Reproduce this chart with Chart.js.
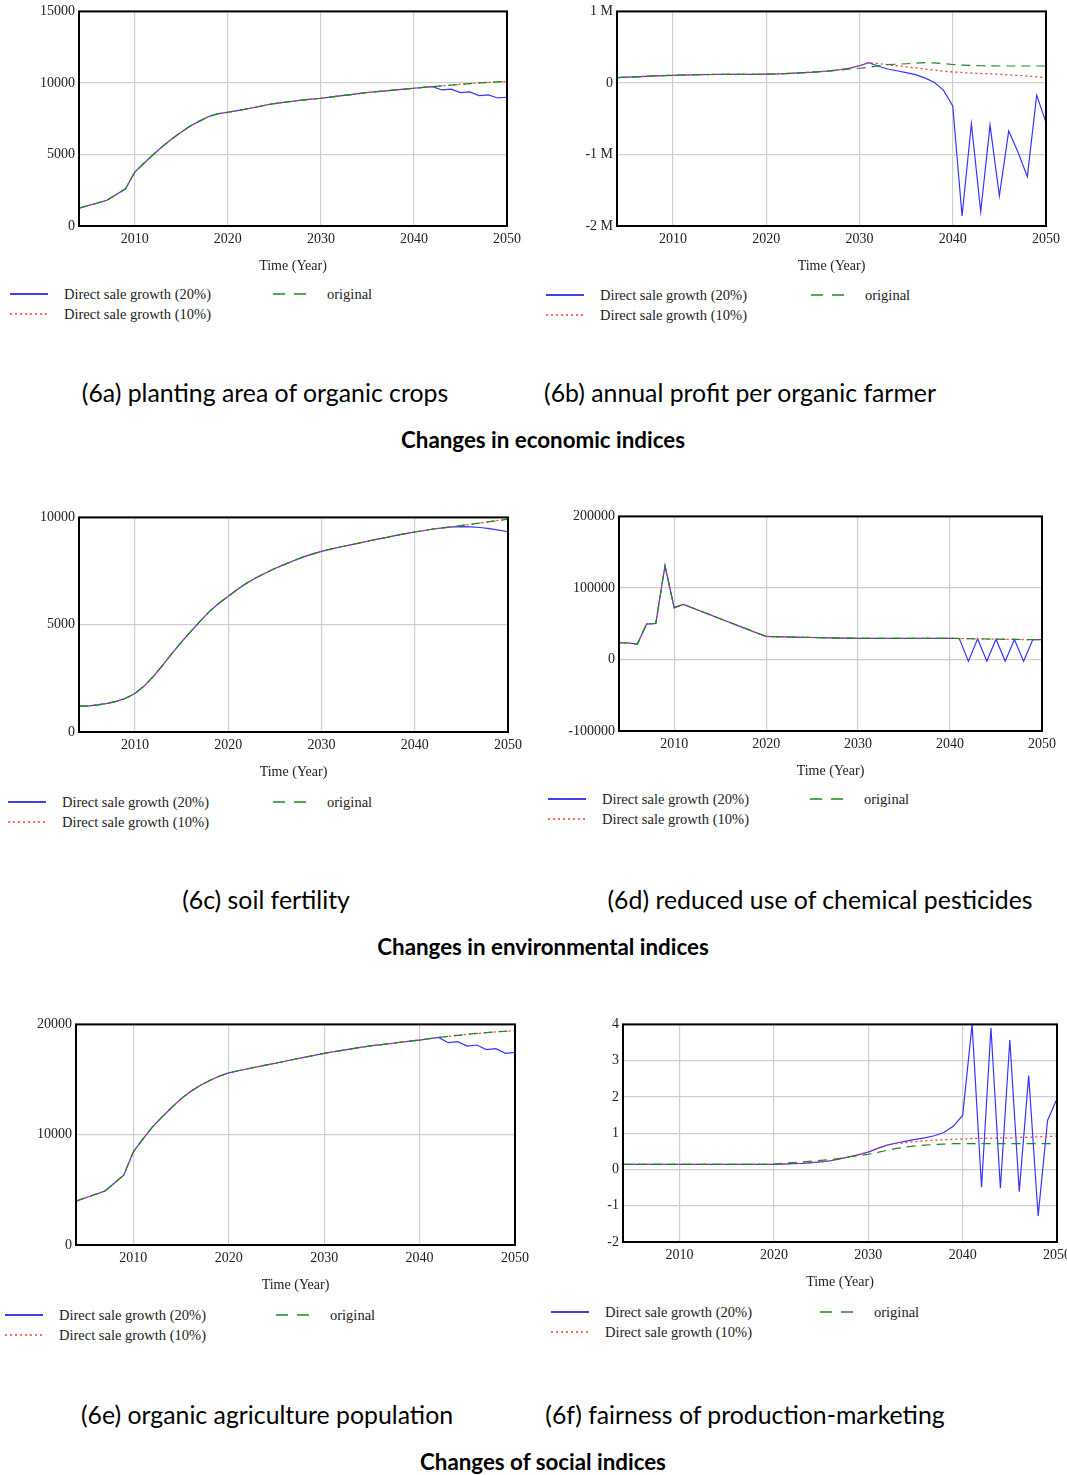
<!DOCTYPE html>
<html>
<head>
<meta charset="utf-8">
<script src="https://cdn.jsdelivr.net/npm/chart.js@4.4.1/dist/chart.umd.min.js"></script>
<style>
  html, body { margin: 0; padding: 0; background: #fff; overflow: hidden; }
  #page { position: relative; width: 1067px; height: 1475px; overflow: hidden; background: #fff; }
  .cv { position: absolute; }
  .txt { position: absolute; white-space: nowrap; transform: translate(-50%, -50%); color: #000; }
  .leg { position: absolute; white-space: nowrap; font-family: "Liberation Serif", serif; font-size: 14.5px; color: #222; transform: translateY(-50%); }
  .legline { position: absolute; }
</style>
</head>
<body>
<div id="page"></div>
<script>
// years on the time axis
const years = [2004, 2005, 2006, 2007, 2008, 2009, 2010, 2011, 2012, 2013,
  2014, 2015, 2016, 2017, 2018, 2019, 2020, 2021, 2022, 2023,
  2024, 2025, 2026, 2027, 2028, 2029, 2030, 2031, 2032, 2033,
  2034, 2035, 2036, 2037, 2038, 2039, 2040, 2041, 2042, 2043,
  2044, 2045, 2046, 2047, 2048, 2049, 2050];
const xTicks = [2010, 2020, 2030, 2040, 2050];

const seriesNames = ["Direct sale growth (20%)", "Direct sale growth (10%)", "original"];

// (6a) planting area of organic crops
const areaTicks = [0, 5000, 10000, 15000];
const areaOriginal = [1250, 1430, 1610, 1800, 2200, 2600, 3770, 4400, 5000, 5580,
  6100, 6570, 7000, 7350, 7670, 7850, 7950, 8060, 8180, 8300,
  8440, 8560, 8640, 8720, 8800, 8870, 8930, 9010, 9090, 9170,
  9250, 9330, 9390, 9450, 9510, 9570, 9630, 9690, 9740, 9800,
  9850, 9900, 9950, 10000, 10040, 10080, 10110];
const area10 = [1250, 1430, 1610, 1800, 2200, 2600, 3770, 4400, 5000, 5580,
  6100, 6570, 7000, 7350, 7670, 7850, 7950, 8060, 8180, 8300,
  8440, 8560, 8640, 8720, 8800, 8870, 8930, 9010, 9090, 9170,
  9250, 9330, 9390, 9450, 9510, 9570, 9630, 9690, 9740, 9800,
  9850, 9900, 9950, 10000, 10040, 10080, 10110];
const area20 = [1250, 1430, 1610, 1800, 2200, 2600, 3770, 4400, 5000, 5580,
  6100, 6570, 7000, 7350, 7670, 7850, 7950, 8060, 8180, 8300,
  8440, 8560, 8640, 8720, 8800, 8870, 8930, 9010, 9090, 9170,
  9250, 9330, 9390, 9450, 9510, 9570, 9630, 9690, 9740, 9510,
  9560, 9330, 9370, 9120, 9160, 8950, 9000];

// (6b) annual profit per organic farmer
const profitTicks = [-2000000, -1000000, 0, 1000000];
const profitTickLabels = ["-2 M", "-1 M", "0", "1 M"];
const profitOriginal = [74000, 80000, 86000, 92000, 98000, 103000, 107000, 111000, 114000, 116000,
  118000, 119000, 120000, 121000, 121000, 121000, 122000, 125000, 130000, 136000,
  143000, 150000, 158000, 168000, 180000, 195000, 205000, 218000, 238000, 255000,
  262000, 268000, 276000, 283000, 280000, 270000, 258000, 250000, 244000, 240000,
  238000, 237000, 237000, 237000, 237000, 237000, 237000];
const profit10 = [74000, 80000, 86000, 92000, 98000, 103000, 107000, 111000, 114000, 116000,
  118000, 119000, 120000, 121000, 121000, 121000, 122000, 125000, 130000, 136000,
  143000, 150000, 160000, 172000, 188000, 208000, 240000, 283000, 272000, 255000,
  240000, 225000, 210000, 195000, 180000, 165000, 153000, 145000, 138000, 132000,
  127000, 120000, 113000, 105000, 96000, 86000, 72000];
const profit20 = [74000, 80000, 86000, 92000, 98000, 103000, 107000, 111000, 114000, 116000,
  118000, 119000, 120000, 121000, 121000, 121000, 122000, 125000, 130000, 136000,
  143000, 150000, 160000, 172000, 188000, 208000, 240000, 283000, 237000, 195000,
  170000, 144000, 116000, 70000, 10000, -100000, -320000, -1860000, -570000, -1800000,
  -590000, -1580000, -670000, -970000, -1310000, -170000, -550000];

// (6c) soil fertility
const soilTicks = [0, 5000, 10000];
const soilOriginal = [1210, 1220, 1260, 1330, 1430, 1570, 1790, 2150, 2600, 3130,
  3680, 4200, 4690, 5170, 5620, 6000, 6320, 6650, 6940, 7190,
  7410, 7620, 7800, 7980, 8150, 8290, 8420, 8520, 8620, 8710,
  8800, 8900, 8990, 9070, 9160, 9240, 9320, 9390, 9460, 9510,
  9560, 9620, 9680, 9740, 9800, 9860, 9920];
const soil10 = [1210, 1220, 1260, 1330, 1430, 1570, 1790, 2150, 2600, 3130,
  3680, 4200, 4690, 5170, 5620, 6000, 6320, 6650, 6940, 7190,
  7410, 7620, 7800, 7980, 8150, 8290, 8420, 8520, 8620, 8710,
  8800, 8900, 8990, 9070, 9160, 9240, 9320, 9390, 9460, 9510,
  9560, 9620, 9680, 9740, 9800, 9860, 9920];
const soil20 = [1210, 1220, 1260, 1330, 1430, 1570, 1790, 2150, 2600, 3130,
  3680, 4200, 4690, 5170, 5620, 6000, 6320, 6650, 6940, 7190,
  7410, 7620, 7800, 7980, 8150, 8290, 8420, 8520, 8620, 8710,
  8800, 8900, 8990, 9070, 9160, 9240, 9320, 9390, 9460, 9510,
  9560, 9570, 9560, 9530, 9480, 9410, 9330];

// (6d) reduced use of chemical pesticides
const pestTicks = [-100000, 0, 100000, 200000];
const pestOriginal = [23400, 23000, 21500, 49500, 50500, 131000, 72400, 77000, 72000, 67000,
  62000, 57000, 52000, 47000, 42000, 37000, 32200, 31800, 31500, 31200,
  31000, 30700, 30400, 30100, 29900, 29700, 29500, 29400, 29400, 29400,
  29400, 29400, 29400, 29400, 29400, 29400, 29400, 29300, 29000, 28800,
  28600, 28400, 28200, 28000, 27900, 27800, 27700];
const pest10 = [23400, 23000, 21500, 49500, 50500, 131000, 72400, 77000, 72000, 67000,
  62000, 57000, 52000, 47000, 42000, 37000, 32200, 31800, 31500, 31200,
  31000, 30700, 30400, 30100, 29900, 29700, 29500, 29400, 29400, 29400,
  29400, 29400, 29400, 29400, 29400, 29400, 29400, 29300, 29000, 28800,
  28600, 28400, 28200, 28000, 27900, 27800, 27700];
const pest20 = [23400, 23000, 21500, 49500, 50500, 131000, 72400, 77000, 72000, 67000,
  62000, 57000, 52000, 47000, 42000, 37000, 32200, 31800, 31500, 31200,
  31000, 30700, 30400, 30100, 29900, 29700, 29500, 29400, 29400, 29400,
  29400, 29400, 29400, 29400, 29400, 29400, 29400, 29300, -2300, 28800,
  -2300, 28400, -2300, 28000, -2300, 27800, 27700];

// (6e) organic agriculture population
const popTicks = [0, 10000, 20000];
const popOriginal = [3980, 4280, 4580, 4880, 5600, 6330, 8430, 9600, 10690, 11600,
  12440, 13250, 13920, 14460, 14910, 15300, 15600, 15800, 15980, 16160,
  16330, 16500, 16680, 16860, 17030, 17200, 17380, 17520, 17660, 17800,
  17940, 18070, 18170, 18270, 18380, 18480, 18580, 18700, 18820, 18920,
  19010, 19100, 19180, 19250, 19320, 19380, 19430];
const pop10 = [3980, 4280, 4580, 4880, 5600, 6330, 8430, 9600, 10690, 11600,
  12440, 13250, 13920, 14460, 14910, 15300, 15600, 15800, 15980, 16160,
  16330, 16500, 16680, 16860, 17030, 17200, 17380, 17520, 17660, 17800,
  17940, 18070, 18170, 18270, 18380, 18480, 18580, 18700, 18820, 18920,
  19010, 19100, 19180, 19250, 19320, 19380, 19430];
const pop20 = [3980, 4280, 4580, 4880, 5600, 6330, 8430, 9600, 10690, 11600,
  12440, 13250, 13920, 14460, 14910, 15300, 15600, 15800, 15980, 16160,
  16330, 16500, 16680, 16860, 17030, 17200, 17380, 17520, 17660, 17800,
  17940, 18070, 18170, 18270, 18380, 18480, 18580, 18700, 18820, 18340,
  18430, 18040, 18130, 17710, 17800, 17380, 17470];

// (6f) fairness of production-marketing
const fairTicks = [-2, -1, 0, 1, 2, 3, 4];
const fairOriginal = [0.14, 0.14, 0.14, 0.14, 0.14, 0.14, 0.14, 0.14, 0.14, 0.14,
  0.14, 0.14, 0.14, 0.14, 0.14, 0.14, 0.15, 0.17, 0.19, 0.21,
  0.23, 0.25, 0.27, 0.31, 0.35, 0.38, 0.42, 0.47, 0.53, 0.58,
  0.62, 0.65, 0.67, 0.69, 0.70, 0.71, 0.71, 0.71, 0.71, 0.71,
  0.71, 0.71, 0.71, 0.71, 0.71, 0.71, 0.71];
const fair10 = [0.14, 0.14, 0.14, 0.14, 0.14, 0.14, 0.14, 0.14, 0.14, 0.14,
  0.14, 0.14, 0.14, 0.14, 0.14, 0.14, 0.14, 0.15, 0.16, 0.17,
  0.19, 0.21, 0.24, 0.29, 0.35, 0.41, 0.48, 0.58, 0.67, 0.71,
  0.74, 0.77, 0.79, 0.81, 0.82, 0.83, 0.84, 0.85, 0.86, 0.86,
  0.87, 0.87, 0.88, 0.89, 0.90, 0.91, 0.92];
const fair20 = [0.14, 0.14, 0.14, 0.14, 0.14, 0.14, 0.14, 0.14, 0.14, 0.14,
  0.14, 0.14, 0.14, 0.14, 0.14, 0.14, 0.14, 0.15, 0.16, 0.17,
  0.19, 0.21, 0.24, 0.29, 0.35, 0.41, 0.48, 0.58, 0.67, 0.73,
  0.78, 0.83, 0.87, 0.93, 1.02, 1.19, 1.49, 4.0, -0.49, 3.9,
  -0.52, 3.57, -0.61, 2.59, -1.28, 1.35, 1.95];

// captions and section headings
const captions = [
  { text: "(6a) planting area of organic crops", x: 265, y: 392 },
  { text: "(6b) annual profit per organic farmer", x: 740, y: 392 },
  { text: "(6c) soil fertility", x: 266, y: 899 },
  { text: "(6d) reduced use of chemical pesticides", x: 820, y: 899 },
  { text: "(6e) organic agriculture population", x: 267, y: 1414 },
  { text: "(6f) fairness of production-marketing", x: 745, y: 1414 }
];
const headings = [
  { text: "Changes in economic indices", x: 543, y: 439 },
  { text: "Changes in environmental indices", x: 543, y: 946 },
  { text: "Changes of social indices", x: 543, y: 1461 }
];

// panel layout: plot area [left, top, right, bottom], legend positions
const panels = [
  { plot: [79, 11, 507, 226], min: 0, max: 15000, ticks: areaTicks, labels: null,
    data: [area20, area10, areaOriginal], legend: { x: 10, y: 294, gx: 273 } },
  { plot: [617, 11, 1046, 226], min: -2000000, max: 1000000, ticks: profitTicks, labels: profitTickLabels,
    data: [profit20, profit10, profitOriginal], legend: { x: 546, y: 295, gx: 811 } },
  { plot: [79, 517, 508, 732], min: 0, max: 10000, ticks: soilTicks, labels: null,
    data: [soil20, soil10, soilOriginal], legend: { x: 8, y: 802, gx: 273 } },
  { plot: [619, 516, 1042, 731], min: -100000, max: 200000, ticks: pestTicks, labels: null,
    data: [pest20, pest10, pestOriginal], legend: { x: 548, y: 799, gx: 810 } },
  { plot: [76, 1024, 515, 1245], min: 0, max: 20000, ticks: popTicks, labels: null,
    data: [pop20, pop10, popOriginal], legend: { x: 5, y: 1315, gx: 276 } },
  { plot: [623, 1024, 1057, 1242], min: -2, max: 4, ticks: fairTicks, labels: null,
    data: [fair20, fair10, fairOriginal], legend: { x: 551, y: 1312, gx: 820 } }
];

const BLUE = "#3535ff", RED = "#ff3a3a", GREEN = "#1e8a1e";
const SERIF = "'Liberation Serif', 'Times New Roman', serif";
const page = document.getElementById("page");

// black frame round the plot area
const framePlugin = {
  id: "frame",
  afterDatasetsDraw(chart) {
    const a = chart.chartArea, ctx = chart.ctx;
    ctx.save();
    ctx.strokeStyle = "#000";
    ctx.lineWidth = 2;
    ctx.strokeRect(a.left, a.top, a.right - a.left, a.bottom - a.top);
    ctx.restore();
  }
};

const Y_W = 60, PAD_T = 12, PAD_R = 30, X_H = 52;

panels.forEach((p) => {
  const [l, t, r, b] = p.plot;
  const cv = document.createElement("canvas");
  const w = Y_W + (r - l) + PAD_R, h = PAD_T + (b - t) + X_H;
  cv.className = "cv";
  cv.width = w; cv.height = h;
  cv.style.left = (l - Y_W) + "px";
  cv.style.top = (t - PAD_T) + "px";
  cv.style.width = w + "px";
  cv.style.height = h + "px";
  page.appendChild(cv);

  const pts = (arr) => years.map((x, i) => ({ x: x, y: arr[i] }));
  // first dataset is drawn on top: green original over red and blue
  const datasets = [
    { label: seriesNames[2], data: pts(p.data[2]), borderColor: GREEN, borderWidth: 1.2, borderDash: [9, 6] },
    { label: seriesNames[1], data: pts(p.data[1]), borderColor: RED, borderWidth: 1.3, borderDash: [2, 3] },
    { label: seriesNames[0], data: pts(p.data[0]), borderColor: BLUE, borderWidth: 1.2 }
  ];
  datasets.forEach((d) => { d.pointRadius = 0; d.tension = 0; d.fill = false; });

  new Chart(cv, {
    type: "line",
    data: { datasets: datasets },
    plugins: [framePlugin],
    options: {
      responsive: false,
      animation: false,
      events: [],
      layout: { padding: { top: PAD_T, right: PAD_R, left: 0, bottom: 0 } },
      plugins: { legend: { display: false }, tooltip: { enabled: false } },
      scales: {
        x: {
          type: "linear",
          min: 2004,
          max: 2050,
          afterBuildTicks: (s) => { s.ticks = xTicks.map((v) => ({ value: v })); },
          afterFit: (s) => { s.height = X_H; },
          grid: { color: "#cfcfcf", lineWidth: 1.2, drawTicks: false },
          border: { display: false },
          ticks: {
            padding: 5,
            maxRotation: 0,
            autoSkip: false,
            color: "#222",
            font: { family: SERIF, size: 14 },
            callback: (v) => String(v)
          },
          title: {
            display: true,
            text: "Time (Year)",
            color: "#222",
            font: { family: SERIF, size: 14 },
            padding: { top: 0, bottom: 3 }
          }
        },
        y: {
          type: "linear",
          min: p.min,
          max: p.max,
          afterBuildTicks: (s) => { s.ticks = p.ticks.map((v) => ({ value: v })); },
          afterFit: (s) => { s.width = Y_W; },
          grid: { color: "#cfcfcf", lineWidth: 1.2, drawTicks: false },
          border: { display: false },
          ticks: {
            padding: 4,
            autoSkip: false,
            color: "#222",
            font: { family: SERIF, size: 14 },
            callback: (v) => {
              const i = p.ticks.indexOf(v);
              return p.labels ? p.labels[i] : String(v);
            }
          }
        }
      }
    }
  });

  // legend block beneath the panel
  const lg = p.legend;
  const items = [
    { name: seriesNames[0], x: lg.x, y: lg.y, color: "#0000e0", dash: "", width: 1.4 },
    { name: seriesNames[1], x: lg.x, y: lg.y + 19.5, color: RED, dash: "2,3", width: 1.3 },
    { name: seriesNames[2], x: lg.gx, y: lg.y, color: GREEN, dash: "12,9", width: 1.4 }
  ];
  items.forEach((it) => {
    const svg = document.createElementNS("http://www.w3.org/2000/svg", "svg");
    svg.setAttribute("width", "38");
    svg.setAttribute("height", "6");
    svg.setAttribute("class", "legline");
    svg.style.left = it.x + "px";
    svg.style.top = (it.y - 3) + "px";
    const ln = document.createElementNS("http://www.w3.org/2000/svg", "line");
    ln.setAttribute("x1", "0"); ln.setAttribute("x2", "38");
    ln.setAttribute("y1", "3"); ln.setAttribute("y2", "3");
    ln.setAttribute("stroke", it.color);
    ln.setAttribute("stroke-width", it.width);
    if (it.dash) ln.setAttribute("stroke-dasharray", it.dash);
    svg.appendChild(ln);
    page.appendChild(svg);

    const tx = document.createElement("div");
    tx.className = "leg";
    tx.textContent = it.name;
    tx.style.left = (it.x + 54) + "px";
    tx.style.top = it.y + "px";
    page.appendChild(tx);
  });
});

// size the caption fonts so the text widths match the figure
const mctx = document.createElement("canvas").getContext("2d");
function fitSize(text, weight, family, target) {
  mctx.font = weight + " 100px " + family;
  return 100 * target / mctx.measureText(text).width;
}
const CAP_FONT = "Lato, 'Open Sans', sans-serif";
const capSize = fitSize(captions[0].text, "400", CAP_FONT, 367);
const headSize = fitSize(headings[0].text, "700", CAP_FONT, 284);

captions.forEach((c) => {
  const d = document.createElement("div");
  d.className = "txt";
  d.textContent = c.text;
  d.style.left = c.x + "px";
  d.style.top = c.y + "px";
  d.style.fontFamily = CAP_FONT;
  d.style.fontSize = capSize + "px";
  page.appendChild(d);
});
headings.forEach((c) => {
  const d = document.createElement("div");
  d.className = "txt";
  d.textContent = c.text;
  d.style.left = c.x + "px";
  d.style.top = c.y + "px";
  d.style.fontFamily = CAP_FONT;
  d.style.fontWeight = "700";
  d.style.fontSize = headSize + "px";
  page.appendChild(d);
});
</script>
</body>
</html>
